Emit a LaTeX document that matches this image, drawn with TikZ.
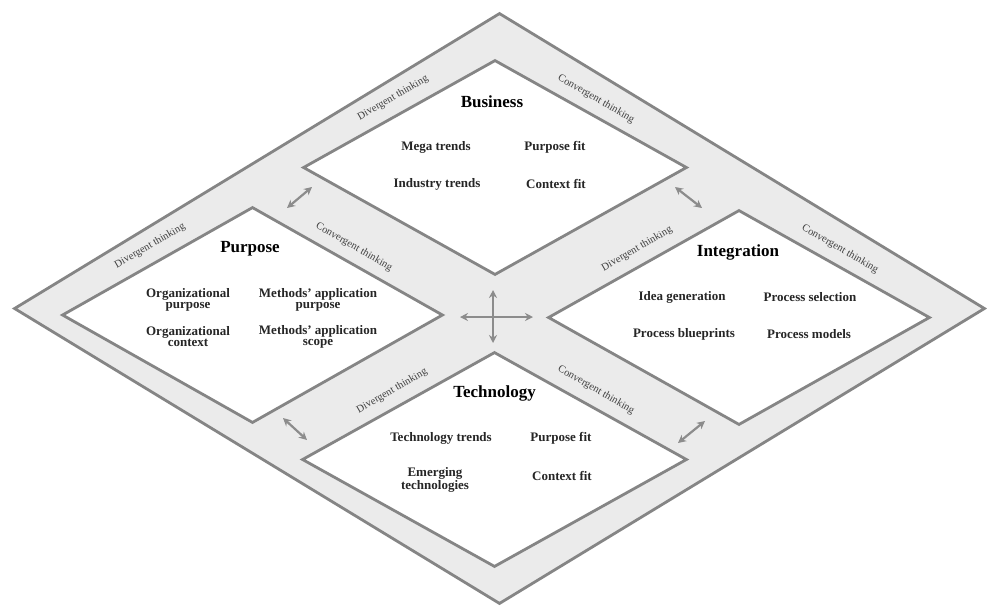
\documentclass[tikz,border=0pt]{standalone}
\usepackage{fontspec}
\setmainfont{Liberation Serif}
\usetikzlibrary{shapes.geometric,arrows.meta}
\definecolor{bandfill}{HTML}{EBEBEB}
\definecolor{edgegray}{HTML}{858585}
\definecolor{arrowgray}{HTML}{8C8C8C}
\begin{document}
\begin{tikzpicture}[x=1pt,y=-1pt,
  dia/.style={diamond, draw=edgegray, line width=2.8pt, inner sep=0pt, aspect=1},
  title/.style={font=\fontsize{17}{18}\selectfont\bfseries, text=black},
  item/.style={font=\fontsize{13}{11}\selectfont\bfseries, align=center, text=black!85},
  think/.style={font=\fontsize{10.5}{12}\selectfont, text=black!75, inner sep=0pt},
  dbl/.style={{Stealth[length=8pt,width=8pt]}-{Stealth[length=8pt,width=8pt]}, draw=arrowgray, line width=2.2pt}]
\fill[white] (0,0) rectangle (987,606);
\useasboundingbox (0,0) rectangle (987,606);
% diamonds
\node[dia, fill=bandfill, minimum width=971pt, minimum height=591pt] (outer) at (499.5,308.5) {};
\node[dia, fill=white, minimum width=384pt, minimum height=215pt] (business) at (495,167.5) {};
\node[dia, fill=white, minimum width=381pt, minimum height=216pt] (purpose) at (252.5,315) {};
\node[dia, fill=white, minimum width=382pt, minimum height=215pt] (integration) at (739,317.5) {};
\node[dia, fill=white, minimum width=385pt, minimum height=215pt] (technology) at (494.5,459.5) {};
% titles
\node[title] (tb) at (492,102) {Business};
\node[title] (tp) at (250,249) {Purpose};
\node[title] (ti) at (738,252) {Integration};
\node[title] (tt) at (494.5,393) {Technology};
% business items
\node[item] (b1) at (436,147) {Mega trends};
\node[item] (b2) at (555,147) {Purpose fit};
\node[item] (b3) at (437,184) {Industry trends};
\node[item] (b4) at (556,184) {Context fit};
% purpose items
\node[item] (p1) at (188,300) {Organizational\\purpose};
\node[item] (p2) at (318,300) {Methods' application\\purpose};
\node[item] (p3) at (188,337) {Organizational\\context};
\node[item] (p4) at (318,337) {Methods' application\\scope};
% integration items
\node[item] (i1) at (682,297) {Idea generation};
\node[item] (i2) at (810,297) {Process selection};
\node[item] (i3) at (684,334) {Process blueprints};
\node[item] (i4) at (809,334) {Process models};
% technology items
\node[item] (t1) at (441,438) {Technology trends};
\node[item] (t2) at (561,438) {Purpose fit};
\node[item] (t3) at (435,480) {Emerging\\technologies};
\node[item] (t4) at (562,476) {Context fit};
% thinking labels
\node[think, rotate=30] (d1) at (393,98) {Divergent thinking};
\node[think, rotate=-30] (c1) at (596,99) {Convergent thinking};
\node[think, rotate=30] (d2) at (150,246) {Divergent thinking};
\node[think, rotate=-30] (c2) at (354,247) {Convergent thinking};
\node[think, rotate=30] (d3) at (637,249) {Divergent thinking};
\node[think, rotate=-30] (c3) at (840,249) {Convergent thinking};
\node[think, rotate=30] (d4) at (392,391) {Divergent thinking};
\node[think, rotate=-30] (c4) at (596,390) {Convergent thinking};
% arrow ends
\coordinate (bpA) at (287,208); \coordinate (bpB) at (312,187);
\coordinate (biA) at (675,187); \coordinate (biB) at (702,208);
\coordinate (ptA) at (283,418); \coordinate (ptB) at (307,440);
\coordinate (itA) at (678,443); \coordinate (itB) at (705,421);
\coordinate (cL) at (460,317); \coordinate (cR) at (533,317);
\coordinate (cT) at (493,290); \coordinate (cB) at (493,343);
\draw[dbl] (bpA) -- (bpB);
\draw[dbl] (biA) -- (biB);
\draw[dbl] (ptA) -- (ptB);
\draw[dbl] (itA) -- (itB);
\draw[dbl] (cL) -- (cR);
\draw[dbl] (cT) -- (cB);
\end{tikzpicture}
\end{document}
